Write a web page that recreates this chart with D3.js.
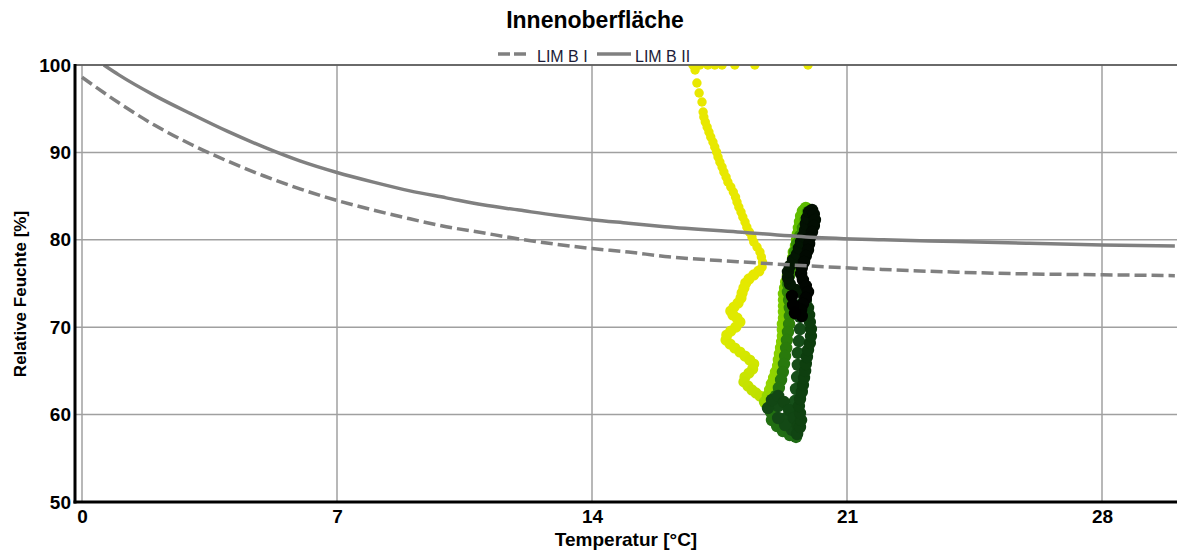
<!DOCTYPE html>
<html lang="de">
<head>
    <meta charset="UTF-8">
    <title>Innenoberfläche</title>
    <script src="https://d3js.org/d3.v7.min.js"></script>
    <style>
        body { margin: 0; background: #fff; }
        svg { display: block; font-family: "Liberation Sans", Arial, sans-serif; }
        .grid { stroke: #a0a0a0; stroke-width: 1.5; }
        .tick text { font-size: 19px; font-weight: bold; fill: #000; font-family: "Liberation Sans", Arial, sans-serif; }
        .axis-label { font-weight: bold; fill: #000; }
        .legend-text { font-family: "Liberation Sans Narrow", "Liberation Sans", Arial, sans-serif; font-size: 16px; fill: #1c1c38; }
        .lim { fill: none; stroke: #808080; stroke-width: 3.5; }
    </style>
</head>
<body>
    <svg width="1177" height="551"></svg>
    <script>
        // Achsen
        const xTicks = [0, 7, 14, 21, 28];
        const yTicks = [50, 60, 70, 80, 90, 100];

        // Grenzkurven LIM B I (gestrichelt) und LIM B II (durchgezogen)
        const limB1Temp = [0, 1, 2, 3, 4, 5, 6, 7, 8, 9, 10, 11, 12, 13, 14, 15, 16, 18, 20, 22, 24, 26, 28, 30];
        const limB1Rh = [98.6, 95.7, 93.1, 90.9, 89.0, 87.3, 85.8, 84.5, 83.4, 82.4, 81.5, 80.8, 80.1, 79.5, 79.0, 78.6, 78.1, 77.5, 77.0, 76.6, 76.3, 76.1, 76.0, 75.9];
        const limB2Temp = [0.6, 1, 2, 3, 4, 5, 6, 7, 8, 9, 10, 11, 12, 13, 14, 15, 16, 18, 20, 22, 24, 26, 28, 30];
        const limB2Rh = [100.0, 98.9, 96.5, 94.4, 92.4, 90.6, 89.0, 87.7, 86.6, 85.6, 84.8, 84.0, 83.4, 82.8, 82.3, 81.9, 81.5, 80.9, 80.3, 80.0, 79.8, 79.6, 79.4, 79.3];

        // Messwerte Innenoberfläche, zeitlich geordnet
        const temperatur = [
            19.93, 18.47, 17.92, 17.57, 17.37, 17.18, 16.96, 16.77,
            16.83, 16.88, 16.94, 17.02, 17.05, 17.07, 17.11, 17.16, 17.21, 17.26, 17.32, 17.37, 17.42, 17.46, 17.51,
            17.57, 17.62, 17.68, 17.73, 17.81, 17.88, 17.94, 17.98, 18.03, 18.09, 18.14, 18.20, 18.25, 18.32, 18.39,
            18.44, 18.53, 18.61, 18.65, 18.68, 18.67,
            18.58, 18.44, 18.31, 18.22, 18.17, 18.12, 18.09, 18.01, 17.90, 17.81, 17.87, 17.98, 18.06, 17.95, 17.81,
            17.70, 17.68, 17.79, 17.92, 18.06, 18.20, 18.33, 18.44, 18.41, 18.31, 18.20, 18.17, 18.28, 18.39, 18.50, 18.61,
            18.75, 18.83, 18.89, 18.94, 19.00, 19.05, 19.11, 19.13, 19.16, 19.19, 19.22, 19.24, 19.24, 19.24, 19.27,
            19.27, 19.27, 19.27, 19.27, 19.30, 19.33, 19.38, 19.43, 19.49, 19.52, 19.54, 19.60, 19.63, 19.65, 19.68,
            19.71, 19.74, 19.79, 19.87,
            19.93, 19.87, 19.79, 19.71, 19.63, 19.57, 19.52, 19.46, 19.41, 19.38, 19.38, 19.41, 19.43, 19.43, 19.41,
            19.38, 19.35, 19.33, 19.30, 19.27, 19.24, 19.19, 19.13, 19.05, 18.97, 18.91, 18.94, 19.08, 19.24, 19.43, 19.60,
            19.60, 19.57, 19.57, 19.60, 19.63, 19.65, 19.65, 19.68, 19.71, 19.71, 19.71, 19.33, 19.11,
            19.49, 19.30, 19.11, 18.83, 18.94, 19.11, 19.27, 19.41, 19.54, 19.65, 19.63, 19.71, 19.74, 19.71, 19.68,
            19.71, 19.76, 19.79, 19.82, 19.85, 19.87, 19.90, 19.93, 19.98, 20.01, 20.01, 19.98, 19.96, 19.93, 19.87,
            19.82, 19.60, 19.43, 19.38, 19.38, 19.43, 19.52, 19.63, 19.68, 19.74, 19.79, 19.85, 19.87, 19.90, 19.96,
            20.04, 20.09, 20.12, 20.09, 20.04, 19.98, 19.96, 19.93, 19.87, 19.82, 19.76, 19.74, 19.79, 19.87, 19.93,
            19.87, 19.79, 19.74, 19.76, 19.49, 19.52, 19.57
        ];
        const feuchte = [
            100, 100, 100, 100, 100, 100, 100, 100,
            99.43, 97.94, 96.80, 95.77, 94.62, 94.05, 93.48, 92.91, 92.33, 91.76, 91.19, 90.62, 90.05, 89.47, 88.90,
            88.33, 87.76, 87.18, 86.61, 86.04, 85.47, 84.90, 84.32, 83.75, 83.18, 82.61, 82.04, 81.46, 80.89, 80.32,
            79.75, 79.18, 78.60, 78.03, 77.46, 76.89,
            76.43, 75.98, 75.52, 75.06, 74.48, 73.91, 73.34, 72.77, 72.31, 71.85, 71.40, 71.05, 70.59, 70.02, 69.56,
            69.10, 68.53, 68.08, 67.62, 67.16, 66.70, 66.25, 65.79, 65.22, 64.76, 64.30, 63.74, 63.28, 62.82, 62.48, 62.13,
            61.44, 62.13, 62.82, 63.51, 64.19, 64.87, 65.56, 66.25, 66.94, 67.62, 68.31, 68.99, 69.68, 70.36, 71.05,
            71.74, 72.42, 73.11, 73.80, 74.48, 75.17, 75.86, 76.54, 77.23, 77.92, 78.60, 79.29, 79.98, 80.66, 81.35,
            82.04, 82.72, 83.29, 83.64,
            83.18, 82.27, 81.35, 80.43, 79.52, 78.60, 77.69, 76.77, 75.86, 74.94, 74.03, 73.11, 72.20, 71.28, 70.36,
            69.45, 68.53, 67.62, 66.70, 65.79, 64.87, 63.96, 63.05, 62.13, 61.21, 60.30, 59.38, 58.69, 58.12, 57.66, 57.44,
            58.81, 60.18, 61.55, 62.93, 64.30, 65.68, 67.05, 68.42, 69.79, 71.17, 72.54, 59.61, 60.98,
            58.24, 58.81, 59.61, 60.75, 61.67, 62.13, 61.44, 60.53, 59.61, 58.69, 57.78, 58.58, 59.38, 60.18, 60.98,
            61.78, 62.59, 63.38, 64.19, 64.99, 65.79, 66.59, 67.39, 68.19, 68.99, 69.79, 70.59, 71.40, 72.20, 73.00,
            73.57, 74.26, 74.94, 75.63, 76.32, 77.00, 77.69, 78.37, 79.06, 79.75, 80.43, 81.12, 81.81, 82.49, 83.18,
            83.41, 82.95, 82.27, 81.58, 80.89, 80.21, 79.52, 78.83, 78.15, 77.46, 76.77, 76.09, 75.40, 74.72, 74.03,
            73.34, 72.65, 71.97, 71.28, 73.57, 72.54, 71.62
        ];

        const plot = { left: 76, right: 1177, top: 65, bottom: 502 };

        const svg = d3.select("svg");

        const x = d3.scaleLinear().domain([0, 28]).range([82, 1102]);
        const y = d3.scaleLinear().domain([50, 100]).range([plot.bottom, plot.top]);

        // Farbverlauf über die Zeit: gelb -> hellgrün -> dunkelgrün -> schwarz
        const n = temperatur.length;
        const farbe = d3.scaleLinear()
            .domain([0, 43, 60, 74, 75, 108, 109, 139, 140, 182, 183, n - 1])
            .range(["#e8e800", "#e8e800", "#dcea00", "#bfe000", "#98d800", "#5cba00",
                    "#3a9200", "#1e6a14", "#17501a", "#0b3a0b", "#041a04", "#000000"]);

        svg.append("defs").append("clipPath").attr("id", "clip")
            .append("rect")
            .attr("x", plot.left).attr("y", plot.top)
            .attr("width", plot.right - plot.left).attr("height", plot.bottom - plot.top);

        // Gitter
        svg.append("g").selectAll("line")
            .data(yTicks)
            .enter().append("line")
            .attr("class", "grid")
            .attr("x1", plot.left).attr("x2", plot.right)
            .attr("y1", d => y(d)).attr("y2", d => y(d));

        svg.append("g").selectAll("line")
            .data(xTicks)
            .enter().append("line")
            .attr("class", "grid")
            .attr("x1", d => x(d)).attr("x2", d => x(d))
            .attr("y1", plot.top).attr("y2", plot.bottom);

        // Messpunkte
        const punkte = temperatur.map((t, i) => ({ t: t, rh: feuchte[i], i: i }));
        svg.append("g")
            .attr("clip-path", "url(#clip)")
            .selectAll("circle")
            .data(punkte)
            .enter().append("circle")
            .attr("cx", d => x(d.t))
            .attr("cy", d => y(d.rh))
            .attr("r", d => d.i < 44 ? 4.7 : (d.i < 75 ? 5.6 : 6.2))
            .attr("fill", d => farbe(d.i));

        // Grenzkurven
        const line = d3.line()
            .x(d => x(d[0]))
            .y(d => y(d[1]))
            .curve(d3.curveMonotoneX);

        const lim = svg.append("g").attr("clip-path", "url(#clip)");
        lim.append("path")
            .attr("class", "lim")
            .attr("stroke-dasharray", "12,5")
            .attr("d", line(limB1Temp.map((t, i) => [t, limB1Rh[i]])));
        lim.append("path")
            .attr("class", "lim")
            .attr("d", line(limB2Temp.map((t, i) => [t, limB2Rh[i]])));

        // Rahmen und Achsen
        svg.append("line")
            .attr("x1", plot.left - 1).attr("x2", plot.right)
            .attr("y1", plot.top).attr("y2", plot.top)
            .attr("stroke", "#505050").attr("stroke-width", 1.5);
        svg.append("line")
            .attr("x1", 75).attr("x2", 75)
            .attr("y1", plot.top - 1).attr("y2", plot.bottom + 1.5)
            .attr("stroke", "#000").attr("stroke-width", 3);
        svg.append("line")
            .attr("x1", 73.5).attr("x2", plot.right)
            .attr("y1", plot.bottom).attr("y2", plot.bottom)
            .attr("stroke", "#000").attr("stroke-width", 3);

        svg.append("g")
            .attr("transform", `translate(75,0)`)
            .call(d3.axisLeft(y).tickValues(yTicks).tickSize(0).tickPadding(4))
            .call(g => g.select(".domain").remove());

        svg.append("g")
            .attr("transform", `translate(0,${plot.bottom})`)
            .call(d3.axisBottom(x).tickValues(xTicks).tickSize(0).tickPadding(7.5))
            .call(g => g.select(".domain").remove());

        // Titel und Achsentitel
        svg.append("text")
            .attr("x", 595).attr("y", 28)
            .attr("text-anchor", "middle")
            .attr("class", "axis-label")
            .style("font-size", "23px")
            .text("Innenoberfläche");

        svg.append("text")
            .attr("x", 626).attr("y", 546)
            .attr("text-anchor", "middle")
            .attr("class", "axis-label")
            .style("font-size", "19px")
            .text("Temperatur [°C]");

        svg.append("text")
            .attr("transform", "translate(26,294) rotate(-90)")
            .attr("text-anchor", "middle")
            .attr("class", "axis-label")
            .style("font-size", "17px")
            .text("Relative Feuchte [%]");

        // Legende
        const legende = [
            { name: "LIM B I", dash: "12,4", x1: 498, x2: 527, tx: 537 },
            { name: "LIM B II", dash: null, x1: 597, x2: 631, tx: 635 }
        ];
        const lg = svg.append("g").selectAll("g").data(legende).enter().append("g");
        lg.append("line")
            .attr("x1", d => d.x1).attr("x2", d => d.x2)
            .attr("y1", 54).attr("y2", 54)
            .attr("stroke", "#808080").attr("stroke-width", 3.5)
            .attr("stroke-dasharray", d => d.dash);
        lg.append("text")
            .attr("class", "legend-text")
            .attr("x", d => d.tx).attr("y", 61.5)
            .text(d => d.name);
    </script>
</body>
</html>
